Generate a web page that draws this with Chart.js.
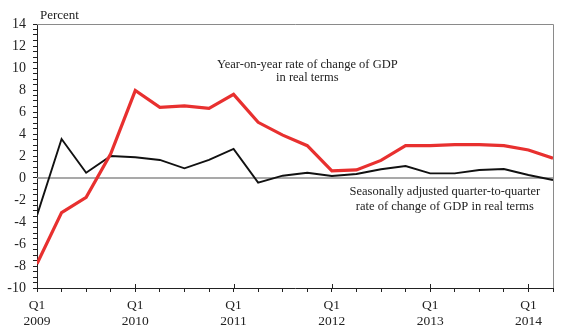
<!DOCTYPE html>
<html>
<head>
<meta charset="utf-8">
<script src="https://cdn.jsdelivr.net/npm/chart.js@4.4.0/dist/chart.umd.min.js"></script>
<style>
  html, body { margin: 0; padding: 0; background: #fff; }
  #wrap { position: relative; width: 570px; height: 333px; }
</style>
</head>
<body>
<div id="wrap"><canvas id="c" width="570" height="333"></canvas></div>
<script>
// Quarterly GDP growth, Q1 2009 .. Q2 2014
const quarters = ["Q1 2009","Q2 2009","Q3 2009","Q4 2009","Q1 2010","Q2 2010","Q3 2010","Q4 2010",
  "Q1 2011","Q2 2011","Q3 2011","Q4 2011","Q1 2012","Q2 2012","Q3 2012","Q4 2012",
  "Q1 2013","Q2 2013","Q3 2013","Q4 2013","Q1 2014","Q2 2014"];
const yoy = [-7.8, -3.15, -1.75, 2.2, 7.95, 6.42, 6.55, 6.33, 7.6, 5.06, 3.9, 2.94,
  0.64, 0.73, 1.6, 2.94, 2.94, 3.03, 3.03, 2.94, 2.55, 1.8];
const qoq = [-3.4, 3.55, 0.48, 2.0, 1.88, 1.64, 0.88, 1.64, 2.64, -0.42, 0.21, 0.48,
  0.18, 0.36, 0.8, 1.09, 0.42, 0.42, 0.73, 0.82, 0.27, -0.18];
const yTicks = [-10, -8, -6, -4, -2, 0, 2, 4, 6, 8, 10, 12, 14];

const SERIF = "'Liberation Serif', 'DejaVu Serif', serif";
const ink = "#222";

// annotation text anchored in data units (x = quarter index, y = percent)
const notes = [
  {x: 11.0, y: 10.0, text: "Year-on-year rate of change of GDP"},
  {x: 11.0, y: 8.8, text: "in real terms"},
  {x: 16.6, y: -1.55, text: "Seasonally adjusted quarter-to-quarter"},
  {x: 16.6, y: -2.9, text: "rate of change of GDP in real terms"},
];

const decor = {
  id: "decor",
  beforeDatasetsDraw(chart) {
    const {ctx, chartArea: a, scales: {x, y}} = chart;
    ctx.save();
    // grey top/right frame
    ctx.strokeStyle = "#8a8a8a"; ctx.lineWidth = 1;
    ctx.beginPath();
    ctx.moveTo(a.left, a.top + 0.5); ctx.lineTo(a.right + 0.5, a.top + 0.5); ctx.lineTo(a.right + 0.5, a.bottom);
    ctx.stroke();
    // zero line
    ctx.strokeStyle = "#8c8c8c"; ctx.lineWidth = 1.6;
    const z = y.getPixelForValue(0);
    ctx.beginPath(); ctx.moveTo(a.left, z); ctx.lineTo(a.right, z); ctx.stroke();
    ctx.restore();
  },
  afterDraw(chart) {
    const {ctx, chartArea: a, scales: {x, y}} = chart;
    ctx.save();
    // Q1 ticks poke above the axis
    ctx.strokeStyle = ink; ctx.lineWidth = 1;
    quarters.forEach((q, i) => {
      if (i % 4 !== 0 || i === 0) return;
      const px = Math.round(x.getPixelForValue(i)) + 0.5;
      ctx.beginPath(); ctx.moveTo(px, a.bottom); ctx.lineTo(px, a.bottom - 4); ctx.stroke();
    });
    // "Percent" label
    ctx.fillStyle = ink; ctx.font = "13px " + SERIF;
    ctx.textAlign = "left"; ctx.textBaseline = "alphabetic";
    ctx.fillText("Percent", a.left + 3, a.top - 5);
    // annotations
    ctx.font = "12.5px " + SERIF; ctx.textAlign = "center";
    notes.forEach(n => ctx.fillText(n.text, x.getPixelForValue(n.x), y.getPixelForValue(n.y)));
    ctx.restore();
  }
};

new Chart(document.getElementById("c"), {
  type: "line",
  data: {
    labels: quarters,
    datasets: [
      {label: "Year-on-year", data: yoy.map((v, i) => ({x: i, y: v})), borderColor: "#e8302f",
       borderWidth: 3.2, pointRadius: 0, tension: 0},
      {label: "Quarter-to-quarter", data: qoq.map((v, i) => ({x: i, y: v})), borderColor: "#111",
       borderWidth: 1.9, pointRadius: 0, tension: 0},
    ]
  },
  options: {
    responsive: false, animation: false,
    layout: {padding: {left: 0, top: 24, right: 17, bottom: 0}},
    plugins: {legend: {display: false}, tooltip: {enabled: false}},
    scales: {
      x: {
        type: "linear", min: 0, max: 21,
        afterFit: s => { s.height = 45; },
        grid: {drawOnChartArea: false, drawTicks: true, tickLength: 4, tickColor: ink},
        border: {display: true, color: ink, width: 1},
        ticks: {
          stepSize: 1, autoSkip: false, maxRotation: 0, padding: 5, color: ink,
          font: {family: SERIF, size: 13.5}, lineHeight: 1.2,
          callback: v => v % 4 === 0 ? ["Q1", quarters[v].split(" ")[1]] : ""
        }
      },
      y: {
        min: -10, max: 14,
        afterFit: s => { s.width = 37; },
        grid: {drawOnChartArea: false, drawTicks: true, tickLength: 4, tickColor: ink},
        border: {display: true, color: ink, width: 1},
        ticks: {
          stepSize: 0.5, autoSkip: false, padding: 7, color: ink,
          font: {family: SERIF, size: 14},
          callback: v => yTicks.includes(v) ? String(v) : ""
        }
      }
    }
  },
  plugins: [decor]
});
</script>
</body>
</html>
